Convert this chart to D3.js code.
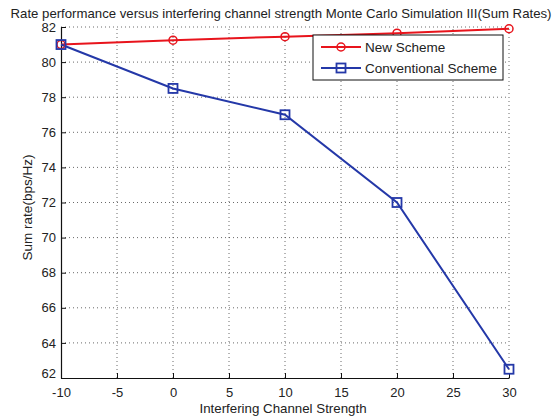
<!DOCTYPE html>
<html>
<head>
<meta charset="utf-8">
<script src="https://cdn.jsdelivr.net/npm/d3@7"></script>
<style>
  body { margin: 0; background: #fff; }
  svg { display: block; font-family: 'Liberation Sans', Arial, sans-serif; }
</style>
</head>
<body>
<div id="chart"></div>
<script>
'use strict';

const strengths = [-10, 0, 10, 20, 30];
const newScheme = [81.0, 81.25, 81.45, 81.65, 81.9];
const conventional = [81.0, 78.5, 77.0, 72.0, 62.5];
const xTicks = [-10, -5, 0, 5, 10, 15, 20, 25, 30];
const yTicks = [62, 64, 66, 68, 70, 72, 74, 76, 78, 80, 82];
const seriesNames = ['New Scheme', 'Conventional Scheme'];

const width = 556;
const height = 419;
const margin = { top: 27, right: 47, bottom: 41, left: 61 };

const svg = d3.select('#chart')
  .append('svg')
  .attr('width', width)
  .attr('height', height);

const x = d3.scaleLinear()
  .domain([-10, 30])
  .range([margin.left, width - margin.right]);

const y = d3.scaleLinear()
  .domain([62, 82])
  .range([height - margin.bottom, margin.top]);

// dotted grid
svg.append('g')
  .selectAll('line')
  .data(xTicks.slice(1))
  .join('line')
  .attr('x1', (d) => x(d))
  .attr('x2', (d) => x(d))
  .attr('y1', y(62))
  .attr('y2', y(82))
  .attr('stroke', '#444')
  .attr('stroke-width', 0.8)
  .attr('stroke-dasharray', '1,3');

svg.append('g')
  .selectAll('line')
  .data(yTicks.slice(1))
  .join('line')
  .attr('x1', x(-10))
  .attr('x2', x(30))
  .attr('y1', (d) => y(d))
  .attr('y2', (d) => y(d))
  .attr('stroke', '#444')
  .attr('stroke-width', 0.8)
  .attr('stroke-dasharray', '1,3');

// axes
const fmt = (d) => String(d);

const xAxis = svg.append('g')
  .attr('transform', `translate(0, ${y(62)})`)
  .call(d3.axisBottom(x).tickValues(xTicks).tickFormat(fmt)
    .tickSizeInner(-5).tickSizeOuter(0).tickPadding(10));

const yAxis = svg.append('g')
  .attr('transform', `translate(${x(-10)}, 0)`)
  .call(d3.axisLeft(y).tickValues(yTicks).tickFormat(fmt)
    .tickSizeInner(-5).tickSizeOuter(0).tickPadding(5));

[xAxis, yAxis].forEach((g) => {
  g.select('.domain').attr('stroke', '#111').attr('stroke-width', 1.2);
  g.selectAll('.tick line').attr('stroke', '#111');
  g.selectAll('.tick text')
    .attr('font-size', '13px')
    .attr('fill', '#222')
    .attr('font-family', "'Liberation Sans', Arial, sans-serif");
});

// lowest y label sits a bit above the x axis line, as in the original
yAxis.selectAll('.tick text').filter((d) => d === 62).attr('dy', '-0.05em');

// titles
svg.append('text')
  .attr('x', 281)
  .attr('y', 18)
  .attr('text-anchor', 'middle')
  .attr('font-size', '13.2px')
  .attr('fill', '#222')
  .text('Rate performance versus interfering channel strength Monte Carlo Simulation III(Sum Rates)');

svg.append('text')
  .attr('x', 283)
  .attr('y', 413)
  .attr('text-anchor', 'middle')
  .attr('font-size', '13.3px')
  .attr('fill', '#222')
  .text('Interfering Channel Strength');

svg.append('text')
  .attr('transform', `translate(32, ${(y(62) + y(82)) / 2 + 5}) rotate(-90)`)
  .attr('text-anchor', 'middle')
  .attr('font-size', '13.5px')
  .attr('fill', '#222')
  .text('Sum rate(bps/Hz)');

// series
const line = d3.line()
  .x((d, i) => x(strengths[i]))
  .y((d) => y(d));

const red = '#e8141c';
const blue = '#2438a8';

svg.append('path')
  .datum(newScheme)
  .attr('d', line)
  .attr('fill', 'none')
  .attr('stroke', red)
  .attr('stroke-width', 2);

svg.append('path')
  .datum(conventional)
  .attr('d', line)
  .attr('fill', 'none')
  .attr('stroke', blue)
  .attr('stroke-width', 2);

svg.append('g')
  .selectAll('circle')
  .data(newScheme)
  .join('circle')
  .attr('cx', (d, i) => x(strengths[i]))
  .attr('cy', (d) => y(d))
  .attr('r', 4)
  .attr('fill', 'none')
  .attr('stroke', red)
  .attr('stroke-width', 1.5);

svg.append('g')
  .selectAll('rect')
  .data(conventional)
  .join('rect')
  .attr('x', (d, i) => x(strengths[i]) - 4.5)
  .attr('y', (d) => y(d) - 4.5)
  .attr('width', 9)
  .attr('height', 9)
  .attr('fill', 'none')
  .attr('stroke', blue)
  .attr('stroke-width', 1.8);

// legend
const legend = svg.append('g')
  .attr('transform', 'translate(313, 35)');

legend.append('rect')
  .attr('width', 190)
  .attr('height', 45)
  .attr('fill', '#fff')
  .attr('stroke', '#111')
  .attr('stroke-width', 1);

const colors = [red, blue];
const items = legend.selectAll('g')
  .data(seriesNames)
  .join('g')
  .attr('transform', (d, i) => `translate(8, ${12 + i * 21})`);

items.append('line')
  .attr('x1', 0)
  .attr('x2', 40)
  .attr('stroke', (d, i) => colors[i])
  .attr('stroke-width', 2);

items.filter((d, i) => i === 0)
  .append('circle')
  .attr('cx', 20)
  .attr('r', 4)
  .attr('fill', 'none')
  .attr('stroke', red)
  .attr('stroke-width', 1.5);

items.filter((d, i) => i === 1)
  .append('rect')
  .attr('x', 15.5)
  .attr('y', -4.5)
  .attr('width', 9)
  .attr('height', 9)
  .attr('fill', 'none')
  .attr('stroke', blue)
  .attr('stroke-width', 1.8);

items.append('text')
  .attr('x', 44)
  .attr('dy', '0.35em')
  .attr('font-size', '13.5px')
  .attr('fill', '#222')
  .text((d) => d);
</script>
</body>
</html>
